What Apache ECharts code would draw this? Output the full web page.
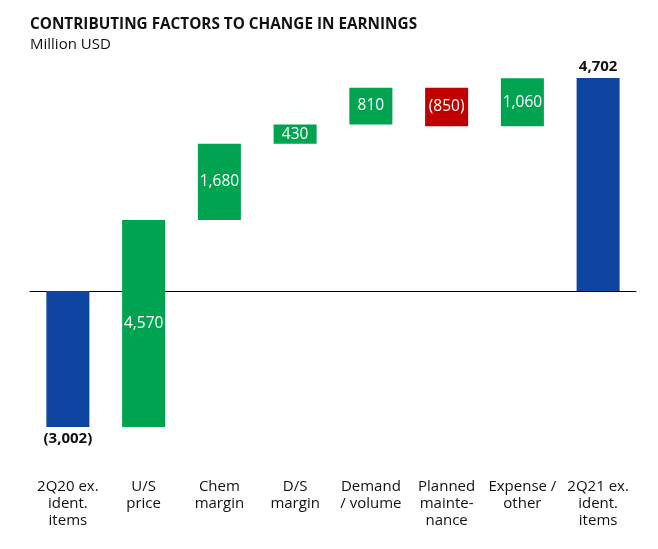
<!DOCTYPE html>
<html><head><meta charset="utf-8">
<script src="https://cdn.jsdelivr.net/npm/echarts@6/dist/echarts.min.js"></script>
<style>html,body{margin:0;padding:0;background:#fff}#c{width:658px;height:549px}</style>
</head><body><div id="c"></div>
<script>
const categories = ['2Q20 ex.\nident.\nitems','U/S\nprice','Chem\nmargin','D/S\nmargin','Demand\n/ volume','Planned\nmainte-\nnance','Expense /\nother','2Q21 ex.\nident.\nitems'];
const values = [-3002, 4570, 1680, 430, 810, -850, 1060, 4702];
const kinds = ['total','delta','delta','delta','delta','delta','delta','total'];
const colors = {total:'#0D45A0', up:'#00A450', down:'#C00000'};

const FONT = '"Open Sans", "Noto Sans", sans-serif';
let cum = 0;
const rows = values.map((v,i)=>{
  let s,e;
  if(kinds[i]==='total'){ s=0; e=v; cum=v; }
  else { s=cum; e=cum+v; cum=e; }
  return [i,s,e,v];
});
function fmt(v){ const a=Math.abs(v).toLocaleString('en-US'); return v<0?'('+a+')':a; }

const chart = echarts.init(document.getElementById('c'));
chart.setOption({
  animation:false,
  title:[
    {text:'CONTRIBUTING FACTORS TO CHANGE IN EARNINGS', left:25, top:12, textStyle:{fontFamily:FONT,fontSize:15.3,fontWeight:'bold',color:'#111'}},
    {text:'Million USD', left:25, top:32, textStyle:{fontFamily:FONT,fontSize:15,fontWeight:'normal',color:'#111'}}
  ],
  grid:{left:30, width:606, top:78, height:349},
  xAxis:[
    {type:'category', data:categories, z:0, axisLine:{onZero:true,lineStyle:{color:'#000',width:1}}, axisTick:{show:false}, axisLabel:{show:false}},
    {type:'category', data:categories, position:'bottom', axisLine:{show:false,onZero:false}, axisTick:{show:false},
     axisLabel:{margin:51, fontFamily:FONT, fontSize:15, lineHeight:17, color:'#111', interval:0}}
  ],
  yAxis:{type:'value', min:-3002, max:4702, show:false, splitLine:{show:false}},
  series:[{
    type:'custom', xAxisIndex:0, z:10,
    data:rows,
    renderItem:function(params, api){
      const i=api.value(0), s=api.value(1), e=api.value(2), v=api.value(3);
      const p1=api.coord([i,s]), p2=api.coord([i,e]);
      const w=api.size([1,0])[0]*0.568;
      const top=Math.min(p1[1],p2[1]), h=Math.abs(p1[1]-p2[1]);
      const k=kinds[i];
      const col = k==='total'?colors.total:(v>=0?colors.up:colors.down);
      const children=[{type:'rect', shape:{x:p1[0]-w/2, y:top, width:w, height:h}, style:{fill:col}}];
      if(k==='total'){
        const y = v<0 ? top+h+12 : top-11;
        children.push({type:'text', style:{text:fmt(v), x:p1[0], y:y, align:'center', verticalAlign:'middle', fill:'#111', font:'bold 15px '+FONT}});
      } else {
        children.push({type:'text', style:{text:fmt(v), x:p1[0], y:top+h/2, align:'center', verticalAlign:'middle', fill:'#fff', font:'15.5px '+FONT}});
      }
      return {type:'group', children:children};
    }
  }]
});
</script></body></html>
